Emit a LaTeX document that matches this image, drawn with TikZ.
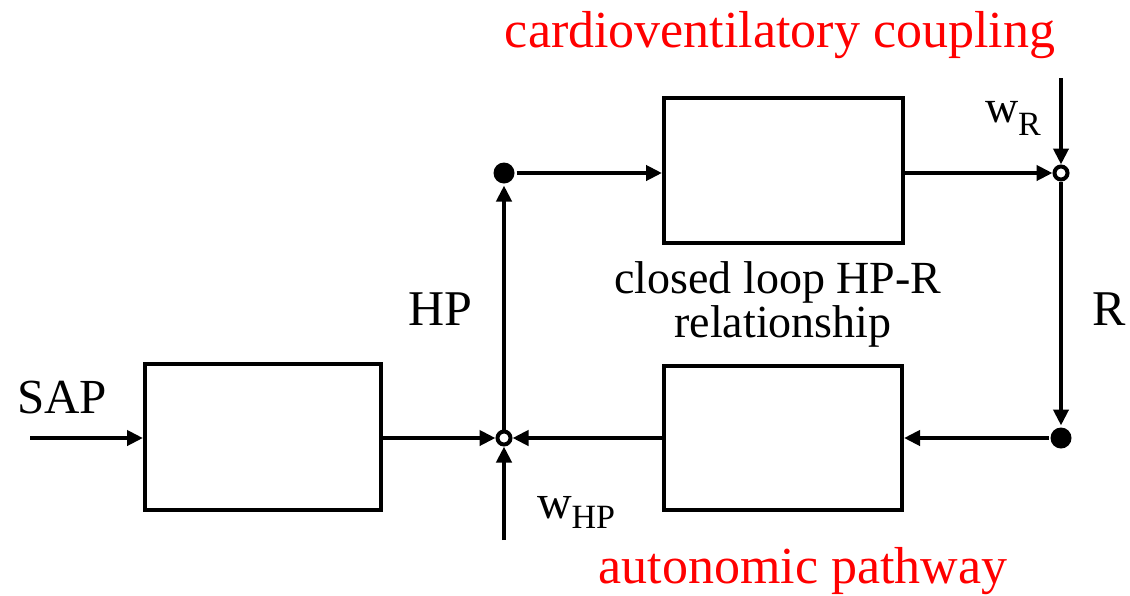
\documentclass[tikz,border=0pt]{standalone}
\usepackage{fontspec}
\setmainfont{Liberation Serif}
\usetikzlibrary{arrows.meta}
\definecolor{lblred}{RGB}{255,0,0}
\newcommand{\fsz}[1]{\fontsize{#1}{#1}\selectfont}
\begin{document}
\begin{tikzpicture}[x=1pt,y=-1pt,line width=4pt,
  blk/.style={draw, inner sep=0pt},
  sumj/.style={circle, draw, fill=white, line width=4pt, minimum size=13pt, inner sep=0pt},
  dotj/.style={circle, fill=black, minimum size=21pt, inner sep=0pt},
  arr/.style={-{Triangle[length=16pt,width=15pt]}},
  lbl/.style={anchor=base, inner sep=0pt},
  redlbl/.style={lbl, text=lblred, font=\fsz{52}},
  sig/.style={lbl, font=\fsz{50}}]
\useasboundingbox (0,0) rectangle (1130,595);
% blocks
\node[blk, minimum width=236pt, minimum height=146pt] (B1) at (263,437) {};
\node[blk, minimum width=239pt, minimum height=145pt] (Btop) at (783.5,170.5) {};
\node[blk, minimum width=238pt, minimum height=144pt] (Bbot) at (783,438) {};
% junctions
\node[sumj] (sumL) at (504,438) {};
\node[dotj] (dotTL) at (504,173) {};
\node[sumj] (sumR) at (1061,173) {};
\node[dotj] (dotBR) at (1061,438) {};
% free ends
\coordinate (in) at (30,438);
\coordinate (wHPin) at (504,540);
\coordinate (wRin) at (1061,78);
% connectors
\draw[arr] (in) -- (in -| B1.west);
\draw[arr] (B1.east |- sumL) -- (sumL);
\draw[arr] (wHPin) -- (sumL);
\draw[arr] (sumL) -- (dotTL);
\draw[arr] (dotTL) -- (dotTL -| Btop.west);
\draw[arr] (Btop.east |- sumR) -- (sumR);
\draw[arr] (wRin) -- (sumR);
\draw[arr] (sumR) -- (dotBR);
\draw[arr] (dotBR) -- (dotBR -| Bbot.east);
\draw[arr] (Bbot.west |- sumL) -- (sumL);
% labels
\node[redlbl] (tcv) at (780,47) {cardioventilatory coupling};
\node[redlbl] (tap) at (803,583) {autonomic pathway};
\node[sig, font=\fsz{49}] (tsap) at (62,413) {SAP};
\node[sig] (thp) at (440,325) {HP};
\node[sig] (tr) at (1109,325) {R};
\node[lbl, font=\fsz{46}] (tcl1) at (778,293) {closed loop HP-R};
\node[lbl, font=\fsz{46}] (tcl2) at (783,337) {relationship};
\node[lbl, anchor=base west, font=\fsz{46}] (twr) at (983,122) {w\raisebox{-13pt}{\fsz{34}R}};
\node[lbl, anchor=base west, font=\fsz{48}] (twhp) at (535,518) {w\raisebox{-10pt}{\fsz{34}HP}};
\end{tikzpicture}
\end{document}
